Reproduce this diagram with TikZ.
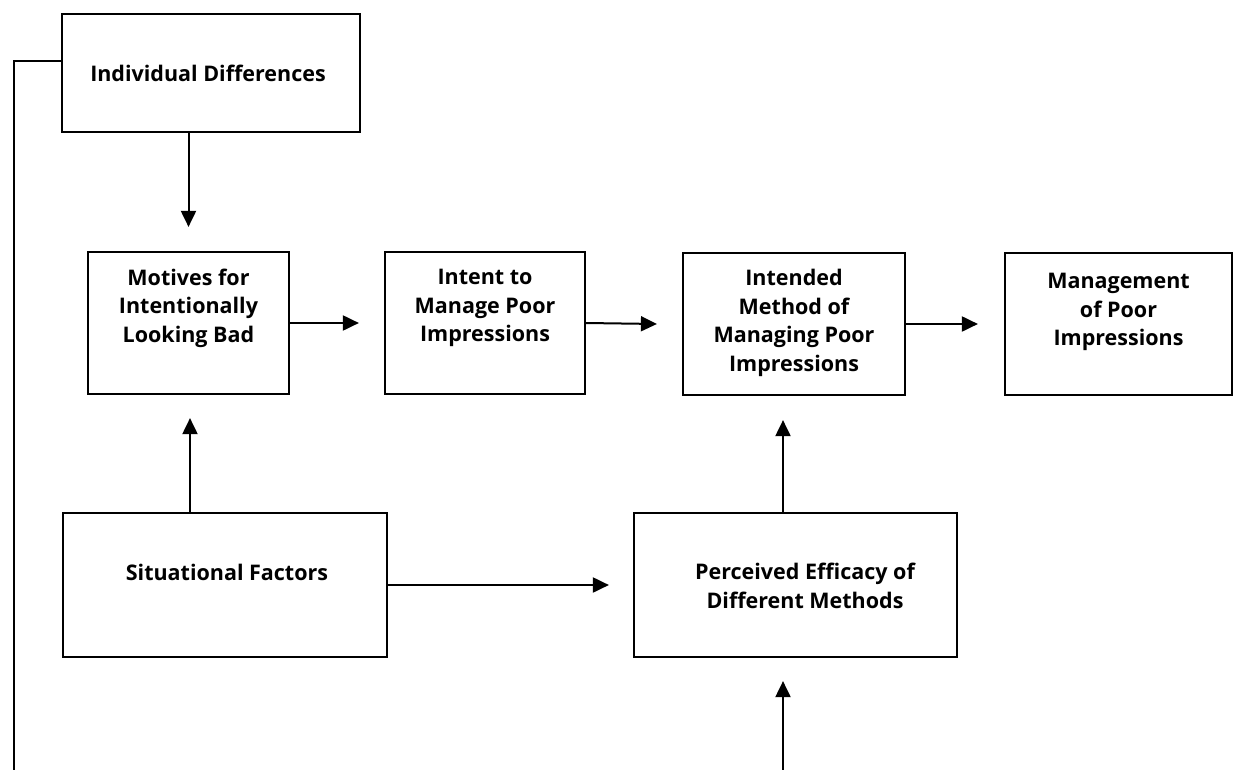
\documentclass[tikz,border=0pt]{standalone}
\usepackage{fontspec}
\setmainfont{Open Sans}
\usetikzlibrary{arrows.meta,calc}
\begin{document}
\begin{tikzpicture}[x=1pt,y=-1pt,
  box/.style={draw=black,line width=2.2pt,minimum width=#1,inner sep=0pt},
  txt/.style={align=center,font=\fontsize{21.5}{28.5}\selectfont\bfseries,inner sep=0pt},
  conn/.style={line width=2pt},
  arr/.style={line width=2pt,-{Triangle[length=16pt,width=15pt]}}]
\useasboundingbox (0,0) rectangle (1238,770);
% boxes
\node[box=298pt,minimum height=118pt] (id) at (211,73) {};
\node[box=201pt,minimum height=142pt] (motives) at (188.5,323) {};
\node[box=200pt,minimum height=142pt] (intent) at (485,323) {};
\node[box=222pt,minimum height=142pt] (intended) at (794,324) {};
\node[box=227pt,minimum height=142pt] (manage) at (1118.5,324) {};
\node[box=324pt,minimum height=144pt] (sit) at (225,585) {};
\node[box=323pt,minimum height=144pt] (perc) at (795.5,585) {};
% texts
\node[txt] (idT) at (208,73) {Individual Differences};
\node[txt] (motivesT) at (188.5,308) {Motives for\\Intentionally\\Looking Bad};
\node[txt] (intentT) at (485,308) {Intent to\\Manage Poor\\Impressions};
\node[txt] (intendedT) at (794,323) {Intended\\Method of\\Managing Poor\\Impressions};
\node[txt] (manageT) at (1118.5,312) {Management\\of Poor\\Impressions};
\node[txt] (sitT) at (227,572) {Situational Factors};
\node[txt] (percT) at (805,586) {Perceived Efficacy of\\Different Methods};
% coordinates
\coordinate (fbtop) at (14,61);
\coordinate (fbbot) at (14,770);
\coordinate (bot) at (783,770);
% connectors
\draw[conn] (id.west |- fbtop) -- (fbtop) -- (fbbot);
\draw[arr] (motives.north |- id.south) -- ($(motives.north)+(0,-24)$);
\draw[arr] (motives.east) -- ($(intent.west)+(-25,0)$);
\draw[arr] (intent.east) -- ($(intended.west)+(-25,0)$);
\draw[arr] (intended.east) -- ($(manage.west)+(-26,0)$);
\draw[arr] ($(motives.south |- sit.north)+(1.5,0)$) -- ($(motives.south)+(1.5,23)$);
\draw[arr] (sit.east) -- ($(perc.west)+(-24,0)$);
\draw[arr] (bot |- perc.north) -- ($(bot |- intended.south)+(0,24)$);
\draw[arr] (bot) -- ($(bot |- perc.south)+(0,23)$);
\end{tikzpicture}
\end{document}
